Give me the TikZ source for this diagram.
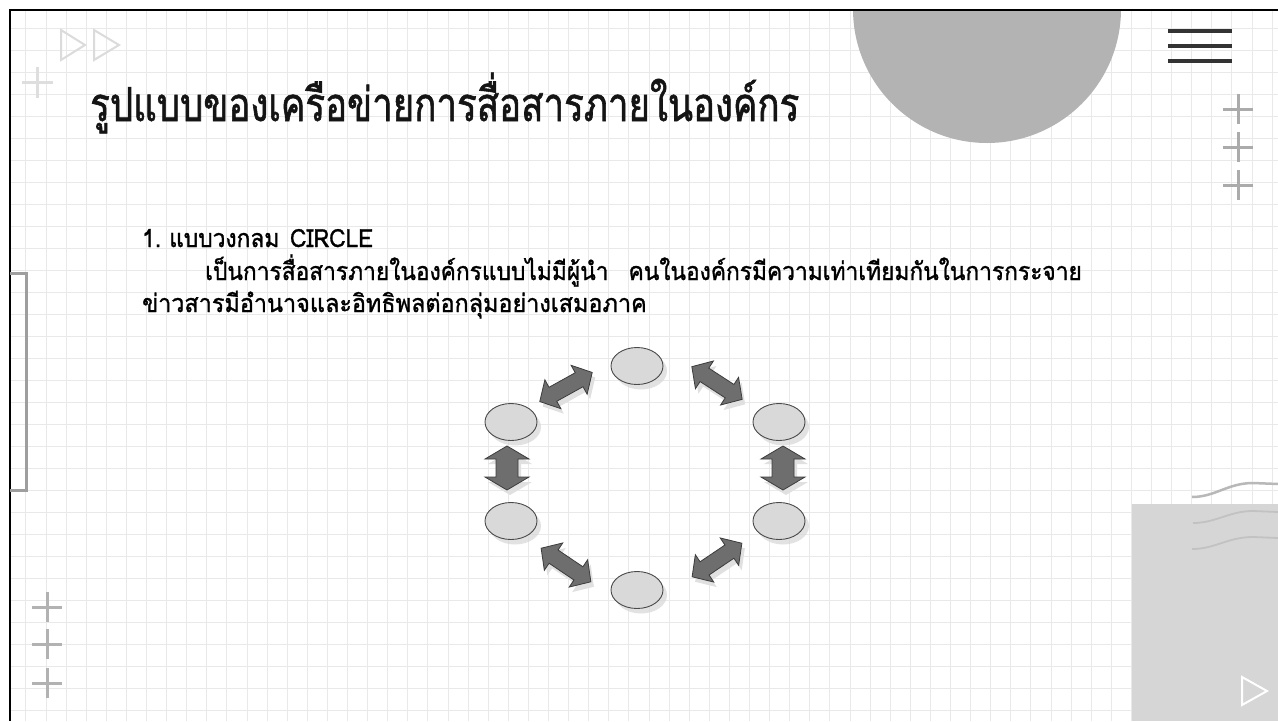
\documentclass[tikz,border=0pt]{standalone}
\usepackage{fontspec}
\usepackage{graphicx}
\newfontfamily\thaititle[Script=Thai, FakeStretch=0.78, FakeBold=1.2]{Loma}
\newfontfamily\thaibody[Script=Thai, FakeStretch=0.91, FakeBold=1.2]{Loma}
\usetikzlibrary{shapes.geometric,shadows}
\definecolor{gridc}{HTML}{E9E9E9}
\definecolor{circgray}{HTML}{B3B3B3}
\definecolor{rectgray}{HTML}{D6D6D6}
\definecolor{ellfill}{HTML}{D9D9D9}
\definecolor{elldraw}{HTML}{4A4A4A}
\definecolor{arrfill}{HTML}{6E6E6E}
\definecolor{arrdraw}{HTML}{3C3C3C}
\tikzset{
  gridline/.style={draw=gridc, line width=1pt},
  plusmark/.style={line width=3pt},
  member/.style={ellipse, draw=elldraw, fill=ellfill, line width=0.9pt,
     minimum width=52pt, minimum height=37pt, inner sep=0pt,
     drop shadow={shadow xshift=4pt, shadow yshift=-5pt, fill=black!16, opacity=0.7}},
  arrowbody/.style={fill=arrfill, draw=arrdraw, line width=0.8pt, line join=miter},
  arrowshadow/.style={fill=black!12},
  titletext/.style={anchor=base west, inner sep=0pt, font=\thaititle\fontsize{47}{56}\selectfont, text=black!92},
  bodytext/.style={anchor=base west, inner sep=0pt, font=\thaibody\fontsize{25}{30}\selectfont, text=black},
}
% double arrow: x, y, angle, length, head width, shaft width, head length
\newcommand\DArrow[7]{%
  \begin{scope}[shift={(#1+3,#2+5)}, rotate=#3]
    \fill[arrowshadow] (-#4/2,0) -- (-#4/2+#7,#5/2) -- (-#4/2+#7,#6/2) -- (#4/2-#7,#6/2) -- (#4/2-#7,#5/2) -- (#4/2,0)
       -- (#4/2-#7,-#5/2) -- (#4/2-#7,-#6/2) -- (-#4/2+#7,-#6/2) -- (-#4/2+#7,-#5/2) -- cycle;
  \end{scope}
  \begin{scope}[shift={(#1,#2)}, rotate=#3]
    \draw[arrowbody] (-#4/2,0) -- (-#4/2+#7,#5/2) -- (-#4/2+#7,#6/2) -- (#4/2-#7,#6/2) -- (#4/2-#7,#5/2) -- (#4/2,0)
       -- (#4/2-#7,-#5/2) -- (#4/2-#7,-#6/2) -- (-#4/2+#7,-#6/2) -- (-#4/2+#7,-#5/2) -- cycle;
  \end{scope}}
\begin{document}
\begin{tikzpicture}[x=1pt,y=-1pt]
\useasboundingbox (0,0) rectangle (1278,721);
\fill[white] (0,0) rectangle (1278,721);
% grid
\begin{scope}
  \clip (10,10) rectangle (1278,721);
  \foreach \i in {0,...,63} \draw[gridline] (5.8+20.1*\i,10) -- (5.8+20.1*\i,721);
  \foreach \j in {0,...,32} \draw[gridline] (10,6+22*\j) -- (1278,6+22*\j);
\end{scope}
% big circle at top
\begin{scope}
  \clip (10,10) rectangle (1278,721);
  \fill[circgray] (987,9) circle[radius=134];
\end{scope}
% bottom-right panel
\fill[rectgray] (1132,504) rectangle (1278,721);
% waves
\draw[black!28, line width=2.5pt] (1192,497) .. controls (1215,497) and (1228,483) .. (1253,483) -- (1278,484);
\draw[black!24, line width=1.8pt] (1193,523) .. controls (1216,523) and (1229,511) .. (1253,511) -- (1278,512);
\draw[black!24, line width=1.8pt] (1192,549) .. controls (1215,549) and (1228,537) .. (1253,537) -- (1278,538);
% frame
\draw[black, line width=2.6pt] (1278,10) -- (10,10) -- (10,721);
% hamburger
\foreach \yy in {31,46,61} \draw[black!80, line width=4pt] (1168,\yy) -- (1232,\yy);
% decorations
\draw[black!14, line width=2pt, line join=miter] (61,30) -- (85,45) -- (61,60) -- cycle;
\draw[black!14, line width=2pt, line join=miter] (94,30) -- (119,45) -- (94,60) -- cycle;
\draw[black!13, plusmark] (22,82) -- (53,82) (37.5,66.5) -- (37.5,97.5);
\foreach \yy in {109,147,185} \draw[black!33, plusmark] (1223,\yy) -- (1253,\yy) (1238,\yy-15) -- (1238,\yy+15);
\foreach \yy in {607,644,683} \draw[black!30, plusmark] (32,\yy) -- (62,\yy) (47.5,\yy-15) -- (47.5,\yy+15);
\draw[black!38, line width=3pt] (10,273) -- (26,273) -- (26,490) -- (10,490);
\draw[white, line width=2pt, line join=miter] (1242,677) -- (1267,691) -- (1242,705) -- cycle;
% texts
\node[titletext] (title) at (90,121) {รูปแบบของเครือข่ายการสื่อสารภายในองค์กร};
\node[bodytext] (item) at (142,247) {1.\hspace{8pt}แบบวงกลม\hspace{3pt} CIRCLE};
\node[bodytext] (line2) at (205,280) {เป็นการสื่อสารภายในองค์กรแบบไม่มีผู้นำ\hspace{20pt}คนในองค์กรมีความเท่าเทียมกันในการกระจาย};
\node[bodytext] (line3) at (142,312) {\scalebox{1.028}[1]{ข่าวสารมีอำนาจและอิทธิพลต่อกลุ่มอย่างเสมอภาค}};
% arrows
\DArrow{566}{387}{29}{60}{33}{16}{15}
\DArrow{717}{383}{-33}{60}{33}{16}{15}
\DArrow{566}{565}{-34}{60}{33}{16}{15}
\DArrow{717}{560}{34}{60}{33}{16}{15}
\DArrow{507}{468}{90}{44}{44}{22}{13}
\DArrow{783}{468}{90}{44}{44}{22}{13}
% members
\node[member] (top) at (637,366) {};
\node[member] (ul) at (511,422) {};
\node[member] (ur) at (779,422) {};
\node[member] (ll) at (511,521) {};
\node[member] (lr) at (779,521) {};
\node[member] (bot) at (637,590) {};
\end{tikzpicture}
\end{document}
